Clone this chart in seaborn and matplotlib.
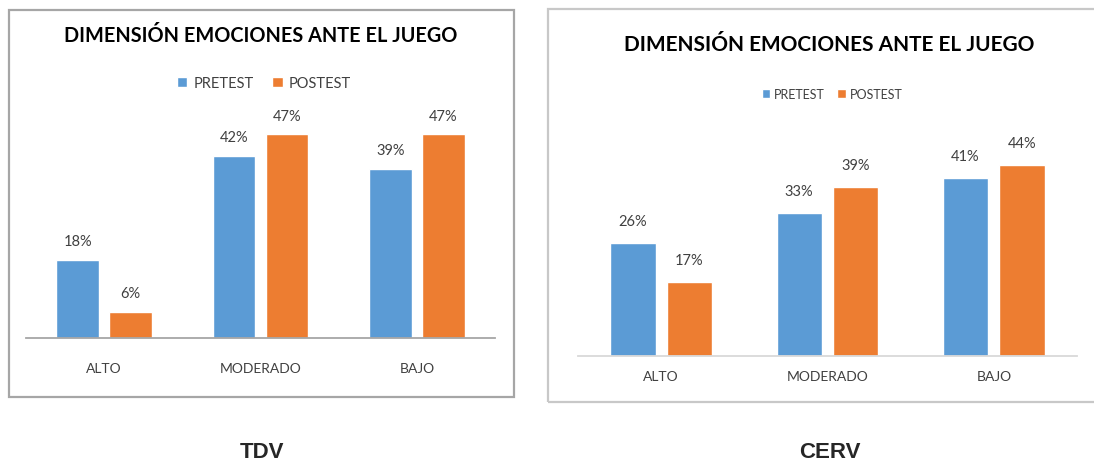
import numpy as np
import pandas as pd
import matplotlib
matplotlib.use("Agg")
import matplotlib.pyplot as plt
from matplotlib.patches import Rectangle
import seaborn as sns

# data
niveles = ["ALTO", "MODERADO", "BAJO"]
tdv_pretest = [18, 42, 39]
tdv_postest = [6, 47, 47]
cerv_pretest = [26, 33, 41]
cerv_postest = [17, 39, 44]
series = ["PRETEST", "POSTEST"]
titulo = "DIMENSIÓN EMOCIONES ANTE EL JUEGO"
pies = ["TDV", "CERV"]

azul = "#5B9BD5"
naranja = "#ED7D31"

sns.set_style("white")
plt.rcParams["font.family"] = ["Lato", "DejaVu Sans"]

W, H = 1094, 464
fig = plt.figure(figsize=(W / 100, H / 100), dpi=100)


def px_axes(x0, x1, y_base, height):
    # pixel box (top-left origin) -> figure fraction
    return [x0 / W, (H - y_base) / H, (x1 - x0) / W, height / H]


def make_df(pre, post):
    return pd.DataFrame({
        "nivel": niveles * 2,
        "pct": pre + post,
        "test": [series[0]] * 3 + [series[1]] * 3,
    })


def draw(ax, df, label_pad, tick_pad, tick_fs, val_fs, spine_col):
    sns.barplot(data=df, x="nivel", y="pct", hue="test", hue_order=series,
                palette=[azul, naranja], width=0.68, gap=0.2, ax=ax,
                saturation=1, legend=True)
    for cont in ax.containers:
        vals = [int(round(b.get_height())) for b in cont]
        ax.bar_label(cont, labels=[f"{v}%" for v in vals], padding=label_pad,
                     fontsize=val_fs, color="#404040")
    ax.set_xlim(-0.5, 2.5)
    ax.set_ylim(0, 50)
    ax.set_xlabel("")
    ax.set_ylabel("")
    ax.set_yticks([])
    for s in ["top", "left", "right"]:
        ax.spines[s].set_visible(False)
    ax.spines["bottom"].set_color(spine_col)
    ax.spines["bottom"].set_linewidth(1.3)
    ax.tick_params(axis="x", length=0, pad=tick_pad, labelsize=tick_fs,
                   labelcolor="#404040")
    ax.set_facecolor("none")
    h, l = ax.get_legend_handles_labels()
    ax.get_legend().remove()
    return h, l


# left chart (TDV)
ax1 = fig.add_axes(px_axes(26, 495, 339, 216.5))
h, l = draw(ax1, make_df(tdv_pretest, tdv_postest), 8.5, 17, 10, 10.5, "#A6A6A6")
fig.legend(h, l, loc="center", bbox_to_anchor=(264 / W, 1 - 84 / H), ncol=2,
           frameon=False, handlelength=0.7, handleheight=0.7, handletextpad=0.4,
           columnspacing=1.3, fontsize=10.5, labelcolor="#404040")
fig.text(261 / W, 1 - 36 / H, titulo, ha="center", va="center", fontsize=14.3,
         fontweight="bold", color="black")
fig.add_artist(Rectangle((9 / W, 1 - 398 / H), 505 / W, 387 / H,
                         transform=fig.transFigure, fill=False,
                         ec="#A6A6A6", lw=1.6))

# right chart (CERV)
ax2 = fig.add_axes(px_axes(578, 1077, 357, 216.5))
h, l = draw(ax2, make_df(cerv_pretest, cerv_postest), 11, 10, 10, 10.5, "#D9D9D9")
fig.legend(h, l, loc="center", bbox_to_anchor=(832 / W, 1 - 95 / H), ncol=2,
           frameon=False, handlelength=0.7, handleheight=0.7, handletextpad=0.3,
           columnspacing=1.0, fontsize=9, labelcolor="#404040")
fig.text(829 / W, 1 - 45 / H, titulo, ha="center", va="center", fontsize=15,
         fontweight="bold", color="black")
fig.add_artist(Rectangle((548 / W, 1 - 403 / H), 560 / W, 393 / H,
                         transform=fig.transFigure, fill=False,
                         ec="#C8C8C8", lw=1.6, clip_on=False))

# captions
fig.text(262 / W, 1 - 453 / H, pies[0], ha="center", va="center",
         fontsize=16, fontweight="bold", family="Liberation Sans")
fig.text(830 / W, 1 - 453 / H, pies[1], ha="center", va="center",
         fontsize=16, fontweight="bold", family="Liberation Sans")

fig.savefig("out.png", dpi=100)
